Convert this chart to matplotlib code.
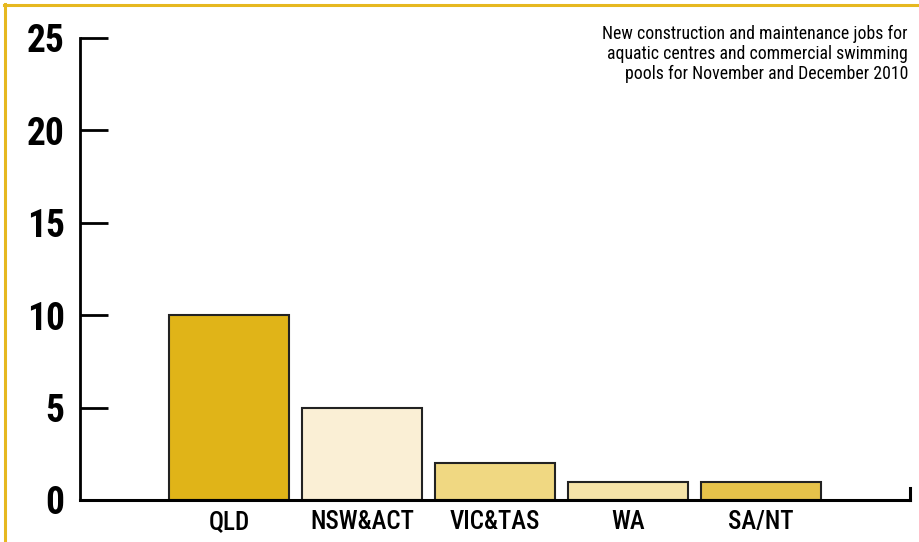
import matplotlib
matplotlib.use("Agg")
import matplotlib.pyplot as plt
from matplotlib.lines import Line2D

categories = ["QLD", "NSW&ACT", "VIC&TAS", "WA", "SA/NT"]
values = [10, 5, 2, 1, 1]
colors = ["#E0B418", "#FAEFD5", "#F0D882", "#F5E3A8", "#E6C24A"]
yticks = [0, 5, 10, 15, 20, 25]
title = "New construction and maintenance jobs for\naquatic centres and commercial swimming\npools for November and December 2010"

plt.rcParams['font.family'] = ['Roboto Condensed', 'Archivo Narrow', 'DejaVu Sans']

fig = plt.figure(figsize=(9.2, 5.42), dpi=100)
ax = fig.add_axes([80/920, 1-500/542, 830/920, 462/542])

x = list(range(len(categories)))
ax.bar(x, values, width=0.9, color=colors, edgecolor="#222222", linewidth=1.5, zorder=2)

ax.set_xlim(-1.12, len(categories) - 1 + 1.12)
ax.set_ylim(0, 25)
ax.set_yticks(yticks)
ax.set_yticklabels([str(t) for t in yticks], fontsize=27, fontweight=600)
ax.set_xticks(x)
ax.set_xticklabels(categories, fontsize=18, fontweight=500)

ax.tick_params(axis='y', direction='in', length=20, width=2, pad=11, colors='black')
ax.tick_params(axis='x', length=0, pad=7)

ax.spines['top'].set_visible(False)
ax.spines['left'].set_linewidth(2)
ax.spines['bottom'].set_linewidth(2.2)
ax.spines['bottom'].set_zorder(3)
ax.spines['right'].set_linewidth(2.2)
ax.spines['right'].set_bounds(0, 0.65)

fig.text(908/920, 1-25/542, title, ha='right', va='top', fontsize=12.8, linespacing=1.13)

gold = "#E6B820"
fig.add_artist(Line2D([4/920, 1], [1-5/542, 1-5/542], transform=fig.transFigure, color=gold, lw=2.2))
fig.add_artist(Line2D([5/920, 5/920], [0, 1-4/542], transform=fig.transFigure, color=gold, lw=2.2))

fig.savefig("out.png", dpi=100)
